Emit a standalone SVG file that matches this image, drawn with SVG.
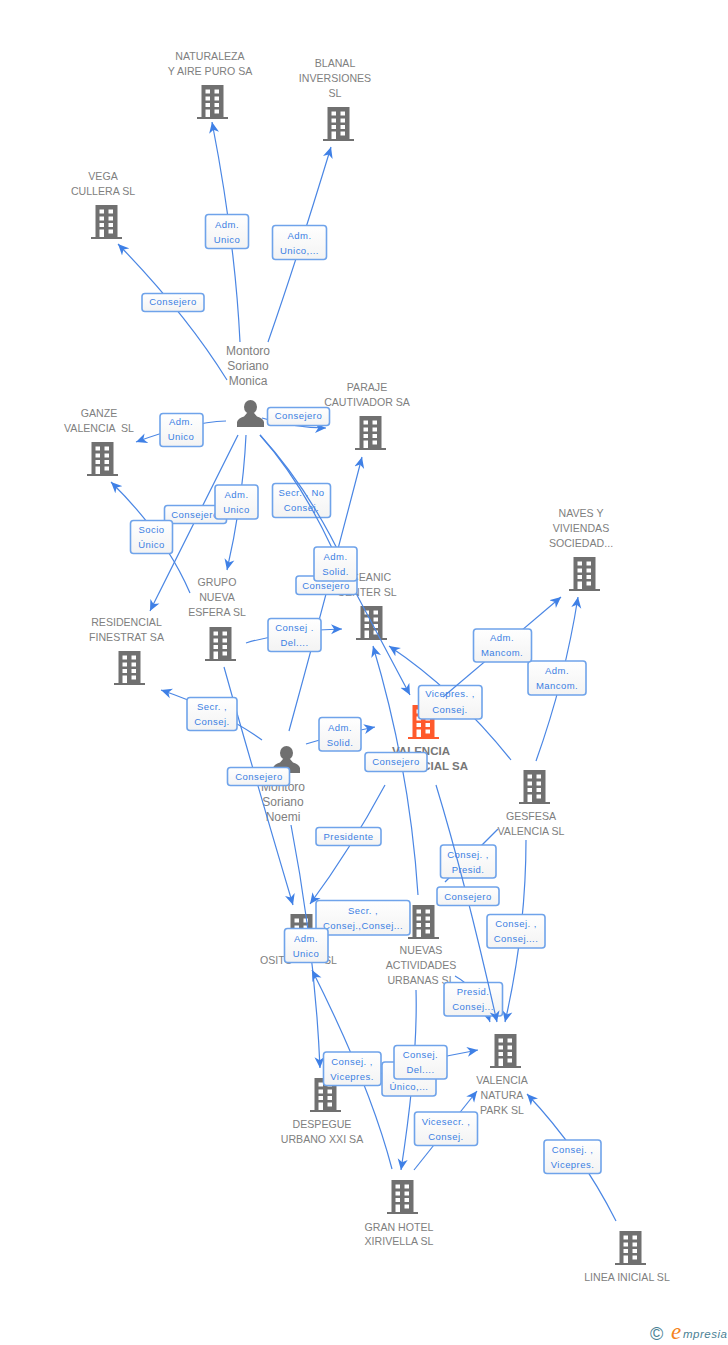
<svg xmlns="http://www.w3.org/2000/svg" width="728" height="1345" viewBox="0 0 728 1345">
<style>
text{font-family:"Liberation Sans",Arial,sans-serif}
.n{font-size:10.6px;fill:#808080;text-anchor:middle}
.p{font-size:12px;fill:#808080;text-anchor:middle}
.b{font-size:11.5px;font-weight:bold;fill:#777;text-anchor:middle}
.l{font-size:9.5px;fill:#3b7fe3;text-anchor:middle;letter-spacing:.45px}
.box{fill:url(#g);stroke:#6fa3ea;stroke-width:1.6}
.c{fill:none;stroke:#4a86e4;stroke-width:1.2;marker-end:url(#a)}
.c0{fill:none;stroke:#4a86e4;stroke-width:1.2}
.bd{fill:#707070}
.or{fill:#ff5a2c}
</style>
<defs>
<linearGradient id="g" x1="0" y1="0" x2="0" y2="1"><stop offset="0" stop-color="#fff"/><stop offset="1" stop-color="#f3f3f3"/></linearGradient>
<marker id="a" markerUnits="userSpaceOnUse" markerWidth="11" markerHeight="11" viewBox="0 0 12 12" refX="12" refY="6" orient="auto"><path d="M12 6L0 .5 3.5 6 0 11.5Z" fill="#3f80e6"/></marker>
<symbol id="bld" viewBox="0 0 32 34" width="32" height="34" overflow="visible"><path fill-rule="evenodd" d="M4.500 0H26.500V32H31V34H0V32H4.500ZM8.500 4.500V8.500H13V4.500ZM17.500 4.500V8.500H22V4.500ZM8.500 11.500V15.500H13V11.500ZM17.500 11.500V15.500H22V11.500ZM8.500 18V22H13V18ZM17.500 18V22H22V18ZM8.500 24.500V32H13V24.500ZM17.500 24.500V28.500H22V24.500Z"/></symbol>
<symbol id="per" viewBox="0 0 27 27" width="27" height="27"><ellipse cx="13.500" cy="7" rx="6.500" ry="7"/><path d="M0 27V22Q1 18 7 16.500L10 13H17L20 16.500Q26 18 27 22V27Z"/></symbol>
</defs>

<g id="nodes">
<g id="n-naturaleza"><text class="n" x="210" y="60">NATURALEZA</text><text class="n" x="210" y="75">Y AIRE PURO SA</text><use href="#bld" x="197" y="85" class="bd"/></g>
<g id="n-blanal"><text class="n" x="335" y="67">BLANAL</text><text class="n" x="335" y="82">INVERSIONES</text><text class="n" x="335" y="97">SL</text><use href="#bld" x="323" y="107" class="bd"/></g>
<g id="n-vega"><text class="n" x="103" y="180">VEGA</text><text class="n" x="103" y="195">CULLERA SL</text><use href="#bld" x="91" y="205" class="bd"/></g>
<g id="n-ganze"><text class="n" x="99" y="417">GANZE</text><text class="n" x="99" y="432" xml:space="preserve">VALENCIA  SL</text><use href="#bld" x="87" y="442" class="bd"/></g>
<g id="n-paraje"><text class="n" x="367" y="391">PARAJE</text><text class="n" x="367" y="406">CAUTIVADOR SA</text><use href="#bld" x="355" y="416" class="bd"/></g>
<g id="n-naves"><text class="n" x="581" y="517">NAVES Y</text><text class="n" x="581" y="532">VIVIENDAS</text><text class="n" x="581" y="547">SOCIEDAD...</text><use href="#bld" x="569" y="557" class="bd"/></g>
<g id="n-oceanic"><text class="n" x="367" y="581">OCEANIC</text><text class="n" x="367" y="596">CENTER SL</text><use href="#bld" x="356" y="606" class="bd"/></g>
<g id="n-grupo"><text class="n" x="217" y="586">GRUPO</text><text class="n" x="217" y="601">NUEVA</text><text class="n" x="217" y="616">ESFERA SL</text><use href="#bld" x="205" y="627" class="bd"/></g>
<g id="n-residencial"><text class="n" x="126.500" y="626">RESIDENCIAL</text><text class="n" x="126.500" y="641">FINESTRAT SA</text><use href="#bld" x="114" y="651" class="bd"/></g>
<g id="n-valencia"><use href="#bld" x="408" y="705" class="or"/><text class="b" x="421" y="755">VALENCIA</text><text class="b" x="468" y="770" style="text-anchor:end">CIAL SA</text></g>
<g id="n-gesfesa"><text class="n" x="531" y="820">GESFESA</text><text class="n" x="531" y="835">VALENCIA SL</text><use href="#bld" x="519" y="770" class="bd"/></g>
<g id="n-nuevas"><use href="#bld" x="408" y="905" class="bd"/><text class="n" x="421" y="954">NUEVAS</text><text class="n" x="421" y="969">ACTIVIDADES</text><text class="n" x="421" y="984">URBANAS SL</text></g>
<g id="n-osito"><use href="#bld" x="286" y="914" class="bd"/><text class="n" x="260" y="964" style="text-anchor:start">OSITO</text><text class="n" x="337" y="964" style="text-anchor:end">SL</text></g>
<g id="n-despegue"><use href="#bld" x="310" y="1078" class="bd"/><text class="n" x="322" y="1128">DESPEGUE</text><text class="n" x="322" y="1143">URBANO XXI SA</text></g>
<g id="n-natura"><use href="#bld" x="490" y="1034" class="bd"/><text class="n" x="502" y="1084">VALENCIA</text><text class="n" x="502" y="1099">NATURA</text><text class="n" x="502" y="1114">PARK SL</text></g>
<g id="n-granhotel"><use href="#bld" x="387" y="1180" class="bd"/><text class="n" x="399" y="1231">GRAN HOTEL</text><text class="n" x="399" y="1245">XIRIVELLA SL</text></g>
<g id="n-linea"><use href="#bld" x="615" y="1231" class="bd"/><text class="n" x="627" y="1281">LINEA INICIAL SL</text></g>
<g id="n-monica"><text class="p" x="248" y="355">Montoro</text><text class="p" x="248" y="370">Soriano</text><text class="p" x="248" y="385">Monica</text><use href="#per" x="237" y="400" class="bd"/></g>
<g id="n-noemi"><use href="#per" x="273" y="746" class="bd"/><text class="p" x="283" y="791">Montoro</text><text class="p" x="283" y="806">Soriano</text><text class="p" x="283" y="821">Noemi</text></g>
</g>

<g id="connectors">
<path class="c" d="M240 342Q235 240 212 122"/>
<path class="c" d="M268 342Q296 262 331 147"/>
<path class="c" d="M227 380Q186 314 118 244"/>
<path class="c" d="M226 421Q190 422 136 442"/>
<path class="c" d="M262 418Q295 428 326 428"/>
<path class="c" d="M238 435L150 611"/>
<path class="c" d="M246 435Q243 500 227 570"/>
<path class="c" d="M289 731Q325 600 362 457"/>
<path class="c" d="M246 643Q290 630 342 629"/>
<path class="c" d="M224 667Q250 760 293 905"/>
<path class="c" d="M190 593Q165 535 111 482"/>
<path class="c" d="M262 740Q220 710 161 690"/>
<path class="c" d="M306 744Q335 735 375 727"/>
<path class="c" d="M291 825Q315 950 320 1068"/>
<path class="c" d="M385 785Q350 850 310 904"/>
<path class="c" d="M418 895Q410 770 373 646"/>
<path class="c" d="M511 760Q455 690 389 646"/>
<path class="c" d="M536 761Q565 680 578 597"/>
<path class="c" d="M526 840Q526 930 505 1022"/>
<path class="c0" d="M498 829L445 882"/>
<path class="c" d="M455 976Q480 990 490 1022"/>
<path class="c" d="M360 1080Q420 1060 478 1050"/>
<path class="c" d="M416 990Q418 1060 401 1170"/>
<path class="c" d="M392 1169Q370 1085 312 970"/>
<path class="c" d="M414 1170L477 1091"/>
<path class="c" d="M616 1221Q580 1150 527 1094"/>
</g>

<g id="labels">
<g><rect class="box" x="205.500" y="214.500" width="43" height="34" rx="3"/><text class="l" x="227" y="228">Adm.</text><text class="l" x="227" y="243">Unico</text></g>
<g><rect class="box" x="272.500" y="225.500" width="54" height="34" rx="3"/><text class="l" x="299.500" y="239">Adm.</text><text class="l" x="299.500" y="254">Unico,...</text></g>
<g><rect class="box" x="142" y="293.500" width="62" height="18" rx="3"/><text class="l" x="173" y="305">Consejero</text></g>
<g><rect class="box" x="160" y="413.500" width="43" height="33" rx="3"/><text class="l" x="181" y="425">Adm.</text><text class="l" x="181" y="440">Unico</text></g>
<g><rect class="box" x="267.500" y="407.500" width="62" height="18" rx="3"/><text class="l" x="298.500" y="419">Consejero</text></g>
<g><rect class="box" x="272.500" y="483.500" width="58" height="34" rx="3"/><text class="l" x="301.500" y="496" xml:space="preserve">Secr. , No</text><text class="l" x="301.500" y="511">Consej.</text></g>
<g><rect class="box" x="164.500" y="505.500" width="62" height="18" rx="3"/><text class="l" x="195" y="518">Consejero</text></g>
<g><rect class="box" x="215" y="485" width="43" height="34" rx="3"/><text class="l" x="236.500" y="498">Adm.</text><text class="l" x="236.500" y="513">Unico</text></g>
<g><rect class="box" x="130.500" y="520.500" width="42" height="33" rx="3"/><text class="l" x="151.500" y="533">Socio</text><text class="l" x="151.500" y="548">Único</text></g>
<g><rect class="box" x="268" y="618.500" width="53" height="33" rx="3"/><text class="l" x="294.500" y="631">Consej .</text><text class="l" x="294.500" y="646">Del....</text></g>
<g><rect class="box" x="528" y="661" width="58" height="34" rx="3"/><text class="l" x="557" y="674">Adm.</text><text class="l" x="557" y="689">Mancom.</text></g>
<g><rect class="box" x="418.500" y="685.500" width="63.500" height="33.500" rx="3"/><text class="l" x="450" y="697">Vicepres. ,</text><text class="l" x="450" y="713">Consej.</text></g>
<g><rect class="box" x="187" y="697.500" width="50" height="33" rx="3"/><text class="l" x="212" y="710">Secr. ,</text><text class="l" x="212" y="725">Consej.</text></g>
<g><rect class="box" x="319" y="717.500" width="42" height="33.500" rx="3"/><text class="l" x="340" y="731">Adm.</text><text class="l" x="340" y="746">Solid.</text></g>
<g><rect class="box" x="227.500" y="767.500" width="62" height="18" rx="3"/><text class="l" x="259" y="780">Consejero</text></g>
<g><rect class="box" x="365" y="752.500" width="62" height="19" rx="3"/><text class="l" x="396" y="765">Consejero</text></g>
<g><rect class="box" x="316" y="827.500" width="65" height="18" rx="3"/><text class="l" x="348.500" y="840">Presidente</text></g>
<g><rect class="box" x="440.500" y="845" width="55.500" height="33" rx="3"/><text class="l" x="468" y="858">Consej. ,</text><text class="l" x="468" y="873">Presid.</text></g>
<g><rect class="box" x="316" y="900.500" width="94" height="34.500" rx="3"/><text class="l" x="363" y="914">Secr. ,</text><text class="l" x="363" y="929">Consej.,Consej...</text></g>
<g><rect class="box" x="487" y="914.500" width="58" height="33.500" rx="3"/><text class="l" x="516" y="927">Consej. ,</text><text class="l" x="516" y="942">Consej....</text></g>
<g><rect class="box" x="444" y="982.500" width="58.500" height="33.500" rx="3"/><text class="l" x="473" y="995">Presid.</text><text class="l" x="473" y="1010">Consej...</text></g>
<g><rect class="box" x="382" y="1062" width="54" height="34" rx="3"/><text class="l" x="409" y="1090">Único,...</text></g>
<g><rect class="box" x="394" y="1045.500" width="53" height="33.500" rx="3"/><text class="l" x="420.500" y="1058">Consej.</text><text class="l" x="420.500" y="1073">Del....</text></g>
<g><rect class="box" x="323.500" y="1052" width="57.500" height="33.500" rx="3"/><text class="l" x="352" y="1065">Consej. ,</text><text class="l" x="352" y="1080">Vicepres.</text></g>
<g><rect class="box" x="414.500" y="1112" width="63" height="33.500" rx="3"/><text class="l" x="446" y="1125">Vicesecr. ,</text><text class="l" x="446" y="1140">Consej.</text></g>
<g><rect class="box" x="544" y="1140" width="57" height="33.500" rx="3"/><text class="l" x="572.500" y="1153">Consej. ,</text><text class="l" x="572.500" y="1168">Vicepres.</text></g>
</g>

<g id="connectors-over">
<path class="c0" d="M260 435Q310 490 345 565"/>
<path class="c" d="M260 435Q300 480 332 548L410 695"/>
<path class="c" d="M436 785Q465 880 497 1022"/>
<path class="c" d="M443 697L561 597"/>
</g>

<g id="labels-over">
<g><rect class="box" x="473.500" y="629" width="58" height="33" rx="3"/><text class="l" x="502" y="641">Adm.</text><text class="l" x="502" y="656">Mancom.</text></g>
<g><rect class="box" x="296" y="576" width="61" height="18.500" rx="3"/><text class="l" x="326" y="589">Consejero</text></g>
<g><rect class="box" x="314" y="547" width="43" height="34" rx="3"/><text class="l" x="335.500" y="560">Adm.</text><text class="l" x="335.500" y="575">Solid.</text></g>
<g><rect class="box" x="437" y="887" width="62" height="18.500" rx="3"/><text class="l" x="468" y="900">Consejero</text></g>
<g><rect class="box" x="284.500" y="928.500" width="43.500" height="34" rx="3"/><text class="l" x="306" y="942">Adm.</text><text class="l" x="306" y="957">Unico</text></g>
</g>

<g id="logo"><text x="650" y="1340" font-size="18" fill="#4a7f94">©</text><text x="671" y="1339" font-size="23" font-style="italic" fill="#f58220" style="font-family:'Liberation Serif',serif">e</text><text x="683" y="1338" font-size="11.500" font-style="italic" fill="#4a7f94" letter-spacing=".5">mpresia</text></g>
</svg>
